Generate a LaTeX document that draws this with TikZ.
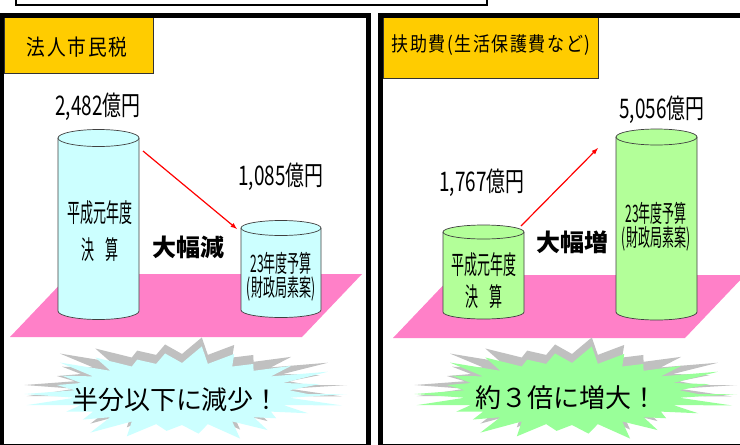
\documentclass[tikz,border=0pt]{standalone}
\usepackage{fontspec}
\usepackage{tikz}
\usetikzlibrary{positioning,shapes,arrows,calc}
\newfontfamily\jpfont{Noto Sans CJK JP}
\newfontfamily\jpnarrow[FakeStretch=0.5]{Noto Sans CJK JP}
\newfontfamily\jpamount[FakeStretch=0.7]{Noto Sans CJK JP}
\newfontfamily\jptitle[FakeStretch=0.85,LetterSpace=8]{Noto Sans CJK JP}

\definecolor{panelorange}{RGB}{255,204,0}
\definecolor{floorpink}{RGB}{255,128,200}
\definecolor{drumcyan}{RGB}{204,255,255}
\definecolor{drumgreen}{RGB}{179,255,153}
\definecolor{burstgreen}{RGB}{153,255,153}
\definecolor{burstgray}{RGB}{192,192,192}

\tikzset{
  title/.style={font=\jptitle\fontsize{22}{24}\selectfont},
  amount/.style={font=\jpamount\fontsize{27}{29}\selectfont},
  drumtext/.style={font=\jpnarrow\fontsize{26}{26}\selectfont, align=center, inner sep=0pt},
  smalldrumtext/.style={font=\jpnarrow\fontsize{24}{24}\selectfont, align=center, inner sep=0pt},
  bigword/.style={font=\jpfont\bfseries\fontsize{24}{26}\selectfont},
  bursttext/.style={font=\jpfont\fontsize{26}{28}\selectfont},
  redarrow/.style={red, line width=1.2pt, -latex}
}

% drum: centre x, top y, bottom y, x radius, y radius, fill
\newcommand{\drum}[6]{%
  \filldraw[fill=#6, draw=black!75, line width=0.7pt]
    (#1-#4,#2) -- (#1-#4,#3) arc[start angle=180, end angle=0, x radius=#4, y radius=#5] -- (#1+#4,#2);
  \filldraw[fill=#6, draw=black!75, line width=0.7pt] (#1,#2) ellipse [x radius=#4, y radius=#5];
}

% burst: centre x, centre y, fill (26 spikes, 13.846 degrees apart)
\newcommand{\burst}[3]{%
  \fill[#3] (#1+165,#2)
    \foreach \s in {1,...,26}
      { -- ($(#1,#2)+({108*cos((\s-0.5)*13.846)},{31*sin((\s-0.5)*13.846)})$)
        -- ($(#1,#2)+({165*(0.88+0.12*sin(\s*94))*cos(\s*13.846)},{48*(0.88+0.12*sin(\s*94))*sin(\s*13.846)})$) } -- cycle;
}

\begin{document}
\begin{tikzpicture}[x=1pt,y=-1pt]
  \useasboundingbox (0,0) rectangle (740,445);
  \fill[white] (0,0) rectangle (740,445);
  \draw[line width=1.5pt] (16,-10) rectangle (487,5);

  % floors
  \fill[floorpink] (10,337) -- (302,337) -- (362,274) -- (70,274) -- cycle;
  \fill[floorpink] (393,338) -- (685,338) -- (745,275) -- (453,275) -- cycle;

  % left panel
  \drum{98.5}{138}{311}{40.5}{8.5}{drumcyan}
  \drum{281}{228}{310}{40}{7.5}{drumcyan}
  \node[amount] (amtOld) at (98,107) {2,482億円};
  \node[amount] (amtNew) at (281,177) {1,085億円};
  \node[drumtext] (yearOld) at (100,231) {平成元年度\\[11pt]決\hspace{0.45em}算};
  \node[smalldrumtext] (yearNew) at (281,277) {23年度予算\\(財政局素案)};
  \node[bigword] (down) at (188,247) {大幅減};
  \coordinate (downA) at (143,151);
  \coordinate (downB) at (237,229);
  \draw[redarrow] (downA) -- (downB);
  \burst{182}{385}{burstgray}
  \burst{182}{394}{drumcyan}
  \node[bursttext] (half) at (176,400) {半分以下に減少！};

  % right panel
  \drum{483.5}{232}{312}{40.5}{7}{drumgreen}
  \drum{656.5}{137}{312}{40.5}{8}{drumgreen}
  \node[amount] (welOld) at (482,183) {1,767億円};
  \node[amount] (welNew) at (662,110) {5,056億円};
  \node[drumtext] (wyearOld) at (484,281) {平成元年度\\[6pt]決\hspace{0.45em}算};
  \node[smalldrumtext] (wyearNew) at (656,227) {23年度予算\\(財政局素案)};
  \node[bigword] (up) at (572,242) {大幅増};
  \coordinate (upA) at (521,226);
  \coordinate (upB) at (598,148);
  \draw[redarrow] (upA) -- (upB);
  \burst{572}{385}{burstgray}
  \burst{572}{394}{burstgreen}
  \node[bursttext] (triple) at (566,398) {約３倍に増大！};

  % labels and frames
  \filldraw[fill=panelorange, draw=black!80, line width=0.8pt] (4,16) rectangle (153,73);
  \filldraw[fill=panelorange, draw=black!80, line width=0.8pt] (383,17) rectangle (598,78);
  \node[title] (tax) at (77,47) {法人市民税};
  \node[title, font=\jptitle\fontsize{20}{24}\selectfont] (welfare) at (491,45) {扶助費(生活保護費など)};
  \draw[line width=5pt] (1.5,15) rectangle (368.5,446);
  \draw[line width=5pt] (380.5,15) rectangle (760,446);
\end{tikzpicture}
\end{document}
